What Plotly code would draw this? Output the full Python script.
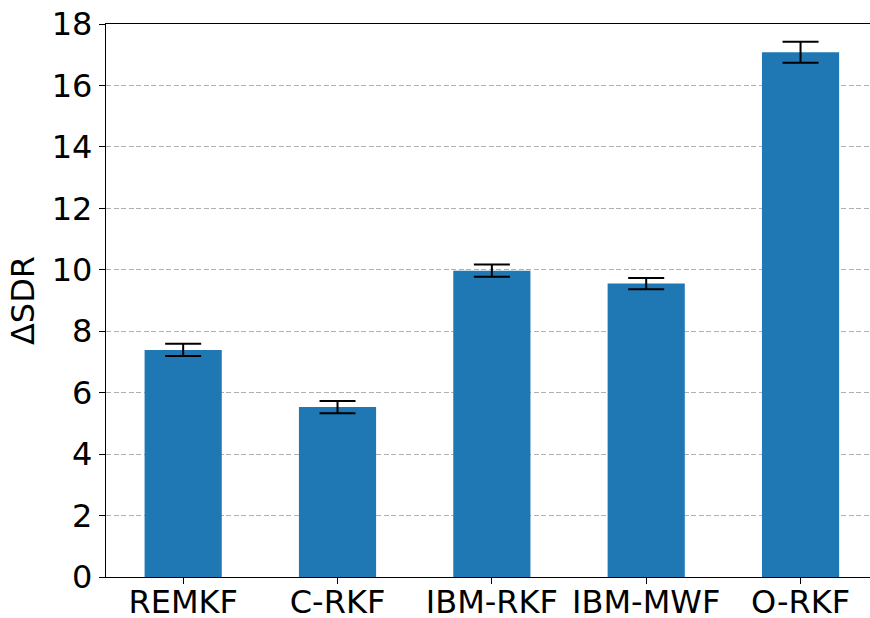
import plotly.graph_objects as go

methods = ["REMKF", "C-RKF", "IBM-RKF", "IBM-MWF", "O-RKF"]
delta_sdr = [7.39, 5.53, 9.97, 9.55, 17.08]
delta_sdr_err = [0.20, 0.20, 0.20, 0.18, 0.34]
y_ticks = [0, 2, 4, 6, 8, 10, 12, 14, 16, 18]

FONT = "DejaVu Sans"
FONT_SIZE = 32

fig = go.Figure(
    go.Bar(
        x=methods,
        y=delta_sdr,
        width=0.5,
        marker=dict(color="#1f77b4", line=dict(width=0)),
        error_y=dict(
            type="data",
            array=delta_sdr_err,
            color="black",
            thickness=2,
            width=18,
        ),
    )
)

fig.update_layout(
    width=870,
    height=618,
    margin=dict(l=106, r=0, t=24, b=41),
    paper_bgcolor="white",
    plot_bgcolor="white",
    showlegend=False,
    font=dict(family=FONT, size=FONT_SIZE, color="black"),
)

fig.update_xaxes(
    type="category",
    range=[-0.5, 4.45],
    automargin=False,
    showline=True,
    linecolor="black",
    linewidth=1.4,
    mirror=True,
    ticks="outside",
    ticklen=6,
    tickwidth=1.3,
    tickcolor="black",
    ticklabelstandoff=-10,
    showgrid=False,
    tickfont=dict(family=FONT, size=FONT_SIZE, color="black"),
)

fig.update_yaxes(
    range=[0, 18],
    tickvals=y_ticks,
    automargin=False,
    showline=True,
    linecolor="black",
    linewidth=1.4,
    ticks="outside",
    ticklen=6,
    tickwidth=1.3,
    tickcolor="black",
    showgrid=True,
    gridcolor="#b0b0b0",
    griddash="5px,2.5px",
    gridwidth=1,
    zeroline=False,
    tickfont=dict(family=FONT, size=FONT_SIZE, color="black"),
    title=dict(text="ΔSDR", font=dict(family=FONT, size=FONT_SIZE, color="black"), standoff=7),
)

fig.write_html("out.html")
